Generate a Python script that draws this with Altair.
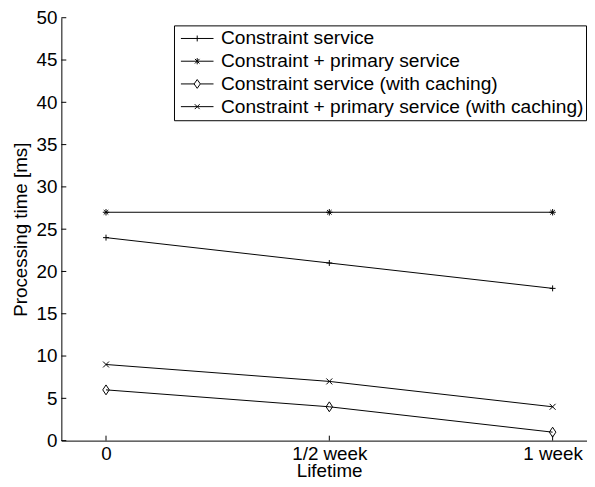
import json
import altair as alt
import pandas as pd

# ---- data ----
categories = ["0", "1/2 week", "1 week"]
series_names = [
    "Constraint service",
    "Constraint + primary service",
    "Constraint service (with caching)",
    "Constraint + primary service (with caching)",
]
constraint = [24, 21, 18]
constraint_primary = [27, 27, 27]
constraint_cache = [6, 4, 1]
constraint_primary_cache = [9, 7, 4]
y_ticks = list(range(0, 51, 5))

# marker glyphs (custom symbol paths)
marker_paths = [
    "M0,-0.6V0.6M-0.6,0H0.6",
    "M0,-0.65V0.65M-0.65,0H0.65M-0.46,-0.46L0.46,0.46M-0.46,0.46L0.46,-0.46",
    "M-0.66,0L0,-1L0.66,0L0,1Z",
    "M-0.6,-0.6L0.6,0.6M-0.6,0.6L0.6,-0.6",
]
legend_paths = [
    "M-1,0H1M0,-0.18V0.18",
    "M-1,0H1M0,-0.19V0.19M-0.14,-0.14L0.14,0.14M-0.14,0.14L0.14,-0.14",
    "M-1,0H-0.19M0.19,0H1M-0.19,0L0,-0.27L0.19,0L0,0.27Z",
    "M-1,0H1M-0.15,-0.15L0.15,0.15M-0.15,0.15L0.15,-0.15",
]

rows = []
for name, vals in zip(series_names, [constraint, constraint_primary,
                                      constraint_cache, constraint_primary_cache]):
    for i, v in enumerate(vals):
        rows.append({"series": name, "x": i, "y": v})
df = pd.DataFrame(rows)

FONT = "Liberation Sans"
FS = 19
W, H = 532, 428

x_scale = alt.Scale(domain=[-0.2, 2.154], nice=False, zero=False)
y_scale = alt.Scale(domain=[0, 50], nice=False)

label_expr = json.dumps(categories) + "[datum.value]"

x_axis = alt.Axis(
    values=[0, 1, 2], labelExpr=label_expr, title="Lifetime", grid=False,
    tickSize=0, labelPadding=4.5, titlePadding=-2.5, titleX=271,
    domainColor="black", domainWidth=1,
    labelFont=FONT, labelFontSize=FS, labelColor="black",
    titleFont=FONT, titleFontSize=FS, titleFontWeight="normal", titleColor="black",
)
y_axis = alt.Axis(
    values=y_ticks, title="Processing time [ms]", grid=False,
    tickSize=0, labelPadding=4.5, titlePadding=6,
    domainColor="black", domainWidth=1,
    labelFont=FONT, labelFontSize=FS, labelColor="black",
    titleFont=FONT, titleFontSize=FS, titleFontWeight="normal", titleColor="black",
)

lines = alt.Chart(df).mark_line(color="black", strokeWidth=1).encode(
    x=alt.X("x:Q", scale=x_scale, axis=x_axis),
    y=alt.Y("y:Q", scale=y_scale, axis=y_axis),
    detail="series:N",
)

points = alt.Chart(df).mark_point(
    filled=False, color="black", strokeWidth=1, size=100, opacity=1
).encode(
    x="x:Q",
    y="y:Q",
    shape=alt.Shape("series:N", scale=alt.Scale(domain=series_names, range=marker_paths),
                    legend=None),
)

legend_layer = alt.Chart(df).transform_filter("false").mark_point(
    filled=False, color="black", strokeWidth=1, opacity=1
).encode(
    x="x:Q",
    y="y:Q",
    shape=alt.Shape(
        "series:N",
        scale=alt.Scale(domain=series_names, range=legend_paths),
        legend=alt.Legend(
            orient="none", legendX=114, legendY=7.75, title=None,
            direction="vertical", strokeColor="black", fillColor="white",
            padding=2, cornerRadius=0,
            symbolSize=1089, symbolStrokeWidth=1, symbolStrokeColor="black",
            symbolFillColor="transparent", symbolOpacity=1,
            symbolOffset=4.5, labelOffset=7, clipHeight=22.5, rowPadding=0,
            labelFont=FONT, labelFontSize=19.4, labelColor="black", labelLimit=600,
        ),
    ),
)

ytick_df = pd.DataFrame({"y": y_ticks})
yticks = alt.Chart(ytick_df).mark_rule(color="black", strokeWidth=1).encode(
    y="y:Q", x=alt.value(0), x2=alt.value(5)
)
xtick_df = pd.DataFrame({"x": list(range(len(categories)))})
xticks = alt.Chart(xtick_df).mark_rule(color="black", strokeWidth=1).encode(
    x="x:Q", y=alt.value(H), y2=alt.value(H - 5)
)

chart = alt.layer(lines, yticks, xticks, points, legend_layer).resolve_scale(
    shape="independent"
).resolve_legend(shape="independent").properties(
    width=W, height=H,
    autosize=alt.AutoSizeParams(type="none"),
    padding={"left": 54, "top": 7, "right": 0, "bottom": 36},
    background="white",
).configure_view(stroke=None)

chart.save("out.html", embed_options={"renderer": "svg", "actions": False})
